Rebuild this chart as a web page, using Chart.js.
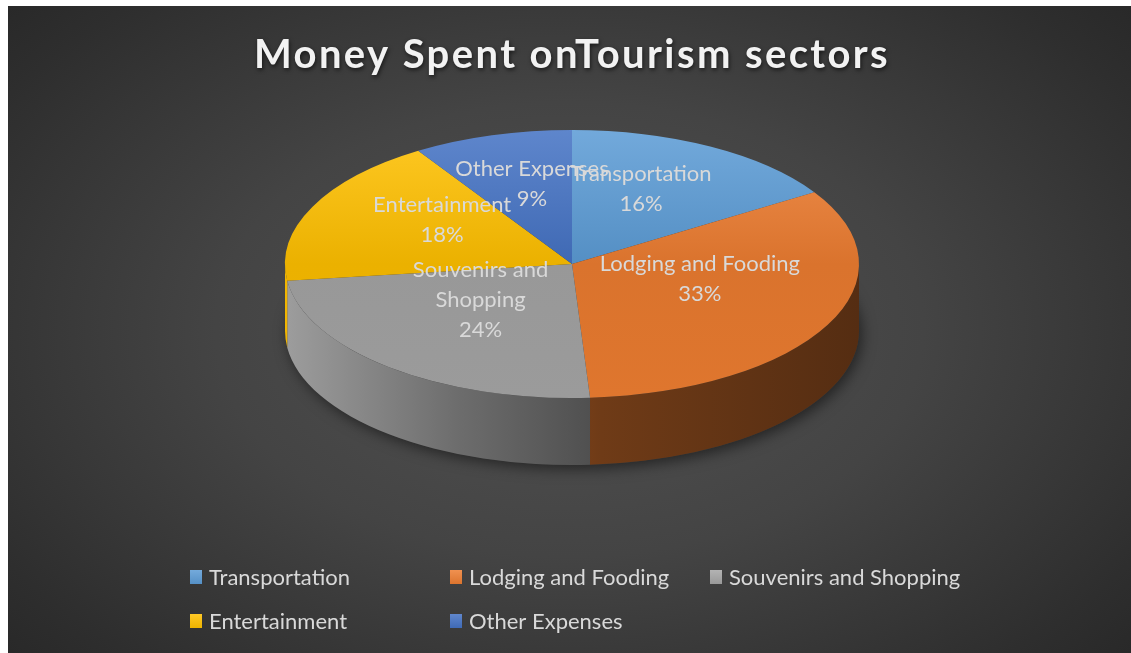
<!DOCTYPE html>
<html><head><meta charset="utf-8">
<script src="https://cdn.jsdelivr.net/npm/chart.js@4"></script>
<style>
html,body{margin:0;padding:0;background:#ffffff;overflow:hidden;}
#wrap{position:absolute;left:8px;top:6px;width:1123px;height:647px;
background:radial-gradient(ellipse 70% 78% at 50% 50%, #525252 0%, #444444 45%, #2e2e2e 85%, #272727 100%);}
</style></head><body><div id="wrap"><canvas id="c"></canvas></div>
<script>
// ---- data ----
const categories = ['Transportation', 'Lodging and Fooding', 'Souvenirs and Shopping', 'Entertainment', 'Other Expenses'];
const sharePercent = [16, 33, 24, 18, 9];
const sliceColors = ['#5b9bd5', '#ed7d31', '#a5a5a5', '#ffc000', '#4472c4'];
const chartTitle = 'Money Spent onTourism sectors';

// ---- style ----
const FONT = 'Lato';
const TEXT_COLOR = '#d9d9d9';
const RX = 287, RY = 134, DEPTH = 67;      // 3D projection of the pie
const LABEL_RADIUS = 0.5, LABEL_WRAP = 215, LABEL_LINE = 30, LABEL_LIFT = 16, LABEL_SIZE = 22;
const LEGEND = {left: 182, colW: 260, cols: 3, rows: [571, 615], box: [12, 14], gap: 7, size: 22};

function hexRgb(h){h=h.replace('#','');return [0,2,4].map(i=>parseInt(h.substr(i,2),16));}
function shade(h,m){return 'rgb('+hexRgb(h).map(v=>Math.max(0,Math.min(255,Math.round(v*m)))).join(',')+')';}
function tint(h,t){return 'rgb('+hexRgb(h).map(v=>Math.round(v+(255-v)*t)).join(',')+')';}

function topFill(c){
  const chart = c.chart, area = chart.chartArea, base = sliceColors[c.dataIndex];
  if(!area) return base;
  const cy = (area.top+area.bottom)/2, r = Math.min(area.width, area.height)/2;
  const g = chart.ctx.createLinearGradient(0, cy-r, 0, cy+r);
  g.addColorStop(0, tint(base, 0.14));
  g.addColorStop(0.5, shade(base, 0.92));
  g.addColorStop(1, shade(base, 0.94));
  return g;
}

function wrapText(ctx, text, maxW){
  if(ctx.measureText(text).width <= maxW) return [text];
  const words = text.split(' '); const lines = []; let cur = '';
  words.forEach(w=>{const t = cur ? cur+' '+w : w;
    if(ctx.measureText(t).width > maxW && cur){lines.push(cur); cur = w;} else cur = t;});
  if(cur) lines.push(cur);
  return lines;
}

let saved = false;
const pie3d = {
  id: 'pie3d',
  beforeDraw(chart){
    const ctx = chart.ctx;
    ctx.letterSpacing = '2.4px';
    ctx.shadowColor = 'rgba(0,0,0,0.6)'; ctx.shadowBlur = 4; ctx.shadowOffsetX = 1; ctx.shadowOffsetY = 2;
  },
  beforeDatasetsDraw(chart){
    const ctx = chart.ctx;
    ctx.letterSpacing = '0px';
    ctx.shadowColor = 'rgba(0,0,0,0)'; ctx.shadowBlur = 0; ctx.shadowOffsetX = 0; ctx.shadowOffsetY = 0;
    const arcs = chart.getDatasetMeta(0).data; if(!arcs.length) return;
    const {x: cx, y: cy, outerRadius: r} = arcs[0];
    ctx.save(); saved = true;
    // soft shadow under the pie body
    ctx.save();
    ctx.shadowColor = 'rgba(0,0,0,0.5)'; ctx.shadowBlur = 14; ctx.shadowOffsetX = 3; ctx.shadowOffsetY = 4;
    ctx.fillStyle = '#3a3a3a';
    ctx.beginPath(); ctx.ellipse(cx, cy+DEPTH, RX, RY, 0, 0, Math.PI*2); ctx.fill();
    ctx.restore();
    // side walls
    arcs.forEach((arc, i)=>{
      const base = sliceColors[i];
      [-2*Math.PI, 0, 2*Math.PI].forEach(sh=>{
        const a0 = Math.max(arc.startAngle+sh, 0), a1 = Math.min(arc.endAngle+sh, Math.PI);
        if(a1 <= a0) return;
        const g = ctx.createLinearGradient(cx-RX, 0, cx+RX, 0);
        g.addColorStop(0, shade(base, 0.95));
        g.addColorStop(0.3, shade(base, 0.66));
        g.addColorStop(0.55, shade(base, 0.47));
        g.addColorStop(1, shade(base, 0.36));
        ctx.beginPath();
        ctx.ellipse(cx, cy, RX, RY, 0, a0, a1, false);
        ctx.ellipse(cx, cy+DEPTH, RX, RY, 0, a1, a0, true);
        ctx.closePath();
        ctx.fillStyle = g; ctx.fill();
      });
    });
    // tilt the top face
    ctx.translate(cx, cy); ctx.scale(RX/r, RY/r); ctx.translate(-cx, -cy);
  },
  afterDatasetsDraw(chart){
    const ctx = chart.ctx;
    if(saved){ctx.restore(); saved = false;}
    const arcs = chart.getDatasetMeta(0).data; if(!arcs.length) return;
    ctx.save();
    ctx.font = LABEL_SIZE + 'px ' + FONT; ctx.fillStyle = TEXT_COLOR;
    ctx.textAlign = 'center'; ctx.textBaseline = 'middle';
    const total = sharePercent.reduce((a,b)=>a+b,0);
    arcs.forEach((arc, i)=>{
      const mid = (arc.startAngle + arc.endAngle)/2;
      const lx = arc.x + RX*LABEL_RADIUS*Math.cos(mid), ly = arc.y + RY*LABEL_RADIUS*Math.sin(mid) - LABEL_LIFT;
      const lines = wrapText(ctx, categories[i], LABEL_WRAP);
      lines.push(Math.round(sharePercent[i]/total*100) + '%');
      const y0 = ly - (lines.length-1)*LABEL_LINE/2;
      lines.forEach((t, k)=>ctx.fillText(t, lx, y0 + k*LABEL_LINE));
    });
    ctx.restore();
  },
  afterDraw(chart){
    const ctx = chart.ctx;
    ctx.save();
    ctx.font = LEGEND.size + 'px ' + FONT; ctx.textBaseline = 'middle'; ctx.textAlign = 'left';
    categories.forEach((name, i)=>{
      const col = i % LEGEND.cols, row = Math.floor(i / LEGEND.cols);
      const x = LEGEND.left + col*LEGEND.colW, y = LEGEND.rows[row];
      const [bw, bh] = LEGEND.box;
      const g = ctx.createLinearGradient(0, y-bh/2, 0, y+bh/2);
      g.addColorStop(0, tint(sliceColors[i], 0.15)); g.addColorStop(1, shade(sliceColors[i], 0.93));
      ctx.fillStyle = g; ctx.fillRect(x, y-bh/2, bw, bh);
      ctx.fillStyle = TEXT_COLOR;
      ctx.fillText(name, x + bw + LEGEND.gap, y + 1);
    });
    ctx.restore();
  }
};

new Chart(document.getElementById('c'), {
  type: 'pie',
  data: {
    labels: categories,
    datasets: [{data: sharePercent, backgroundColor: topFill, borderWidth: 0, hoverOffset: 0}]
  },
  options: {
    responsive: true, maintainAspectRatio: false, animation: false,
    events: [],
    layout: {padding: {left: 5, right: 0, top: 0, bottom: 214}},
    plugins: {
      legend: {display: false},
      tooltip: {enabled: false},
      title: {display: true, text: chartTitle, color: '#f2f2f2',
        font: {family: FONT, size: 40, weight: 'bold'}, padding: {top: 25, bottom: 10}}
    }
  },
  plugins: [pie3d]
});
</script></body></html>
